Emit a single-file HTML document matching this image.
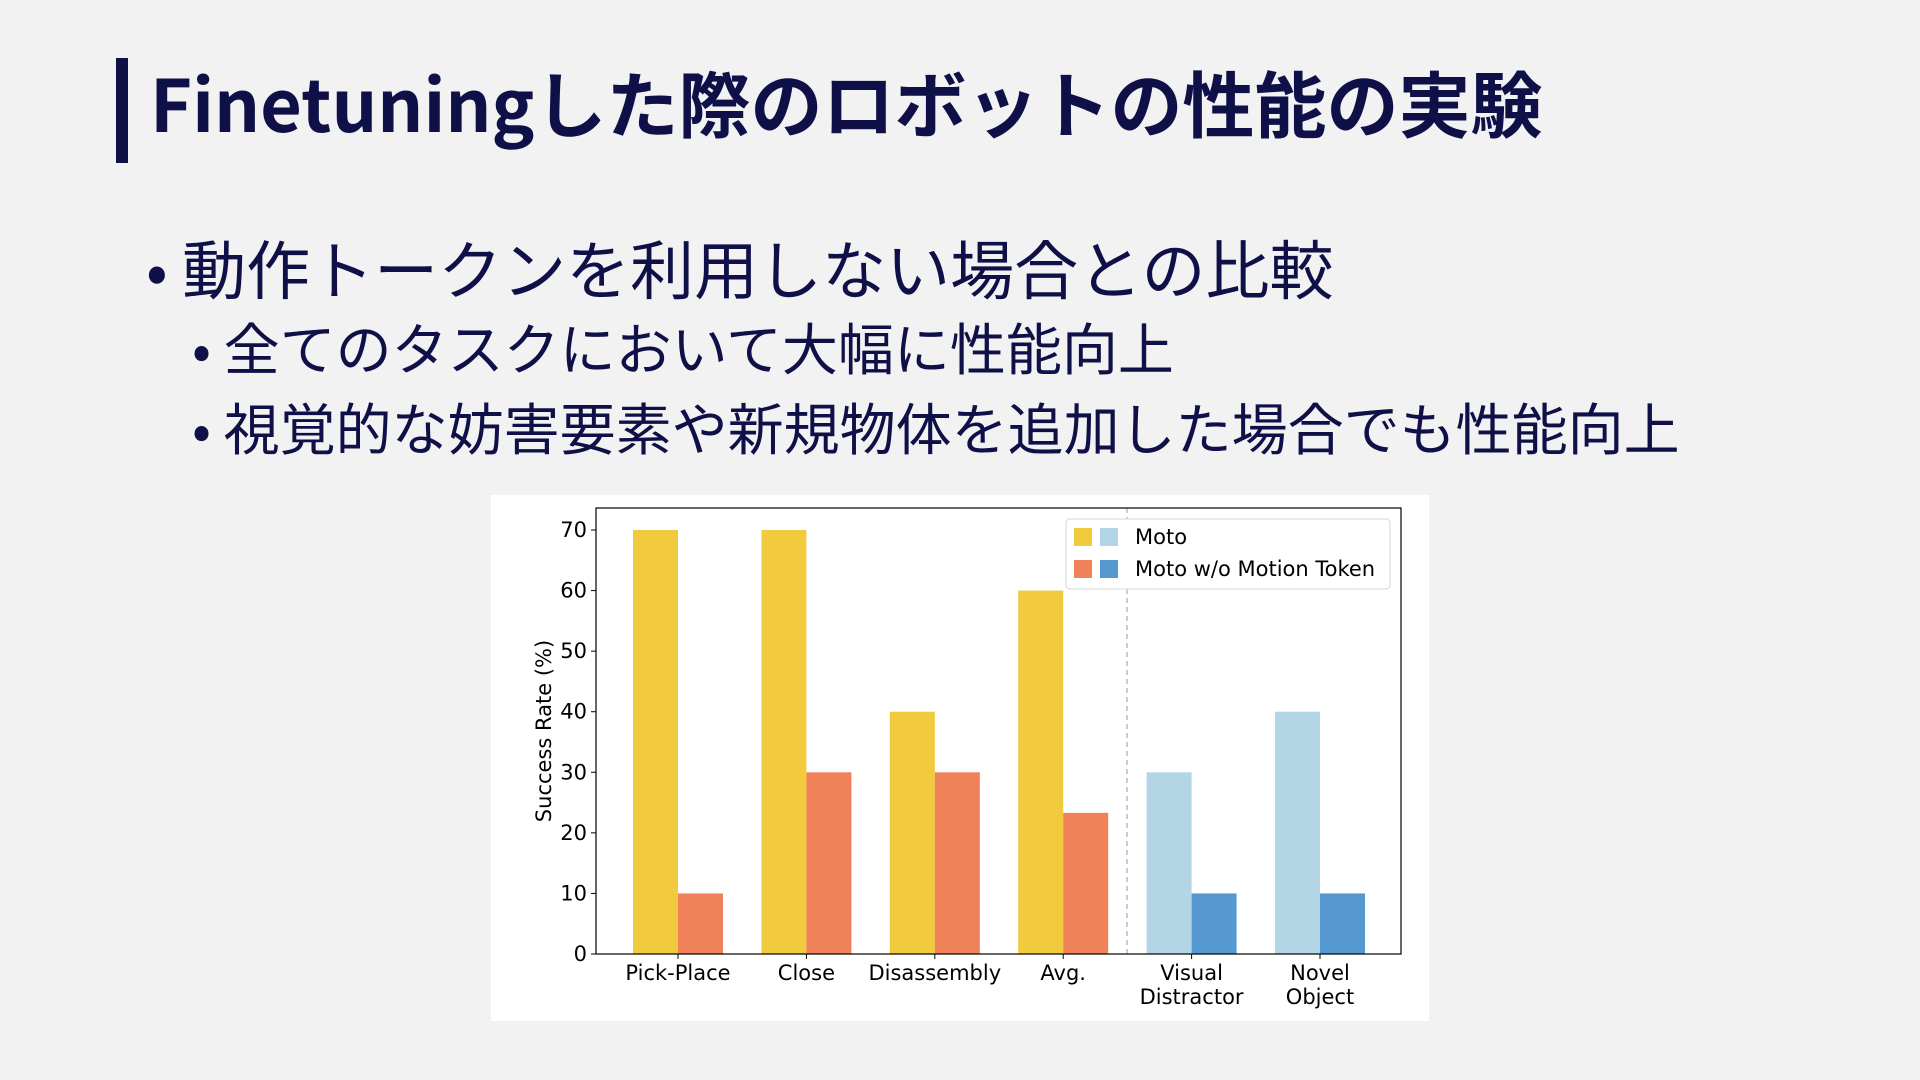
<!DOCTYPE html>
<html><head><meta charset="utf-8"><style>
html,body{margin:0;padding:0;width:1920px;height:1080px;background:#f2f2f2;overflow:hidden}
body{font-family:"Liberation Sans","Noto Sans CJK JP",sans-serif;color:#0f1048;position:relative}
.t{position:absolute;white-space:nowrap}
</style></head><body>
<div style="position:absolute;left:116px;top:58px;width:12px;height:105px;background:#0f1048"></div>
<div class="t" style="left:150px;top:58px;font-size:72px;font-weight:bold;line-height:86px;font-family:'Noto Sans CJK JP',sans-serif">Finetuningした際のロボットの性能の実験</div>
<div class="t" style="left:146px;top:227px;font-size:64px;line-height:80px;font-family:'Noto Sans CJK JP',sans-serif">•&nbsp;動作トークンを利用しない場合との比較</div>
<div class="t" style="left:192px;top:312px;font-size:56px;line-height:70px;font-family:'Noto Sans CJK JP',sans-serif">•&nbsp;全てのタスクにおいて大幅に性能向上</div>
<div class="t" style="left:192px;top:392px;font-size:56px;line-height:70px;font-family:'Noto Sans CJK JP',sans-serif">•&nbsp;視覚的な妨害要素や新規物体を追加した場合でも性能向上</div>
<svg id="chart" style="position:absolute;left:0;top:0" width="1920" height="1080" viewBox="0 0 1920 1080"></svg>
<script>
const categories=["Pick-Place","Close","Disassembly","Avg.","Visual|Distractor","Novel|Object"];
const motoValues=[70,70,40,60,30,40];
const noTokenValues=[10,30,30,23.3,10,10];
const yTicks=[0,10,20,30,40,50,60,70];
const svg=document.getElementById('chart');
const NS='http://www.w3.org/2000/svg';
const X0=596,X1=1401,Y0=954,Y1=508;
const yScale=v=>Y0-v*(954-530)/70;
const xCenter=i=>678+i*128.4;
const BW=45;
function mk(tag,attrs,parent){const e=document.createElementNS(NS,tag);for(const k in attrs)e.setAttribute(k,attrs[k]);(parent||svg).appendChild(e);return e;}
const bg=mk('rect',{x:491,y:495,width:938,height:526,fill:'#fff'});


categories.forEach((c,i)=>{
  const cx=xCenter(i);const ood=i>=4;
  const b1=mk('rect',{x:cx-BW,y:yScale(motoValues[i]),width:BW,height:Y0-yScale(motoValues[i]),fill:ood?'#b3d6e6':'#f2ca3d'});
  
  
  const b2=mk('rect',{x:cx,y:yScale(noTokenValues[i]),width:BW,height:Y0-yScale(noTokenValues[i]),fill:ood?'#5599d0':'#f0825a'});
  
  
  mk('line',{x1:cx,x2:cx,y1:Y0,y2:Y0+5,stroke:'#000','stroke-width':1});
  c.split('|').forEach((ln,j)=>{
    const t=mk('text',{x:cx,y:Y0+26+j*24,'text-anchor':'middle','font-size':21,fill:'#000','font-family':'DejaVu Sans, sans-serif'});
    t.textContent=ln;
    
    
  });
});
yTicks.forEach(v=>{
  const y=yScale(v);
  mk('line',{x1:X0-5,x2:X0,y1:y,y2:y,stroke:'#000','stroke-width':1});
  const t=mk('text',{x:X0-9,y:y+7,'text-anchor':'end','font-size':21,fill:'#000','font-family':'DejaVu Sans, sans-serif'});
  t.textContent=v;
  
  
});
const dl=mk('line',{x1:1127,x2:1127,y1:Y1,y2:Y0,stroke:'#aaa','stroke-width':1.2,'stroke-dasharray':'5,4'});


mk('rect',{x:X0,y:Y1,width:X1-X0,height:Y0-Y1,fill:'none',stroke:'#000','stroke-width':1.2});
const yl=mk('text',{x:0,y:0,transform:'translate(551,731) rotate(-90)','text-anchor':'middle','font-size':21,fill:'#000','font-family':'DejaVu Sans, sans-serif'});
yl.textContent='Success Rate (%)';


const lg=mk('g',{});


mk('rect',{x:1066,y:519,width:324,height:70,rx:4,fill:'#fff',stroke:'#ddd','stroke-width':1.2},lg);
[['#f2ca3d','#b3d6e6','Moto',537],['#f0825a','#5599d0','Moto w/o Motion Token',569]].forEach(([c1,c2,txt,y])=>{
  mk('rect',{x:1074,y:y-9,width:18,height:18,fill:c1},lg);
  mk('rect',{x:1100,y:y-9,width:18,height:18,fill:c2},lg);
  const t=mk('text',{x:1135,y:y+7,'font-size':21,fill:'#000','font-family':'DejaVu Sans, sans-serif'},lg);
  t.textContent=txt;
  
  
});
</script>
</body></html>
